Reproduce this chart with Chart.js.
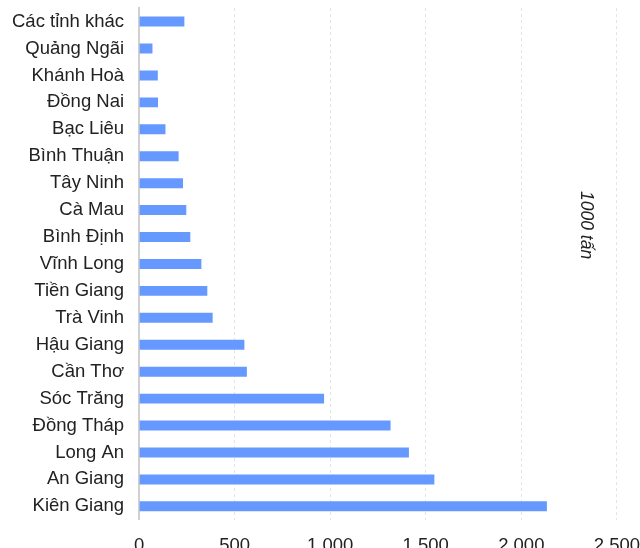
<!DOCTYPE html>
<html>
<head>
<meta charset="utf-8">
<script src="https://cdn.jsdelivr.net/npm/chart.js@4"></script>
<style>
  html, body { margin: 0; padding: 0; background: #fff; overflow: hidden; }
  #clip { width: 640px; height: 548px; overflow: hidden; position: relative; }
  #wrap { width: 658px; height: 590px; position: absolute; left: -3px; top: -18px; }
</style>
</head>
<body>
<div id="clip"><div id="wrap"><canvas id="chart"></canvas></div></div>
<script>
// provinces, top to bottom as drawn
const provinces = [
    'Các tỉnh khác', 'Quảng Ngãi', 'Khánh Hoà', 'Đồng Nai', 'Bạc Liêu',
    'Bình Thuận', 'Tây Ninh', 'Cà Mau', 'Bình Định', 'Vĩnh Long',
    'Tiền Giang', 'Trà Vinh', 'Hậu Giang', 'Cần Thơ', 'Sóc Trăng',
    'Đồng Tháp', 'Long An', 'An Giang', 'Kiên Giang'
];
// output, 1000 tấn
const output = [
    237, 70, 98, 99, 138,
    207, 230, 247, 268, 326,
    357, 385, 551, 564, 968,
    1316, 1412, 1545, 2134
];
const xTicks = [0, 500, 1000, 1500, 2000, 2500];
const unitLabel = '1000 tấn';

const fontFamily = "'Liberation Sans', Arial, sans-serif";

// rotated unit label on the right side of the plot
const unitPlugin = {
    id: 'unitLabel',
    afterDraw(chart) {
        const { ctx, chartArea } = chart;
        ctx.save();
        ctx.translate(chartArea.right - 31, chartArea.top + chartArea.height * 0.424);
        ctx.rotate(Math.PI / 2);
        ctx.font = 'italic 17.5px ' + fontFamily;
        ctx.fillStyle = '#222';
        ctx.textAlign = 'center';
        ctx.textBaseline = 'middle';
        ctx.fillText(unitLabel, 0, 0);
        ctx.restore();
    }
};

new Chart(document.getElementById('chart'), {
    type: 'bar',
    data: {
        labels: provinces,
        datasets: [{
            data: output,
            backgroundColor: '#6699ff',
            borderWidth: 0,
            barPercentage: 0.37,
            categoryPercentage: 1
        }]
    },
    options: {
        indexAxis: 'y',
        responsive: true,
        maintainAspectRatio: false,
        animation: false,
        layout: { padding: 0 },
        plugins: {
            legend: { display: false },
            tooltip: { enabled: false }
        },
        scales: {
            x: {
                min: 0,
                max: 2500,
                afterBuildTicks(scale) {
                    scale.ticks = xTicks.map(v => ({ value: v }));
                },
                grid: {
                    color: '#e4e4e4',
                    drawTicks: false
                },
                border: { display: false, dash: [3, 3] },
                ticks: {
                    padding: 15,
                    color: '#222',
                    font: { family: fontFamily, size: 18.5 },
                    callback: v => v.toLocaleString('de-DE')
                }
            },
            y: {
                grid: { display: false, drawTicks: false },
                border: { display: true, color: '#d0d0d0', width: 2 },
                ticks: {
                    autoSkip: false,
                    padding: 15,
                    color: '#222',
                    font: { family: fontFamily, size: 18.5 }
                }
            }
        }
    },
    plugins: [unitPlugin]
});
</script>
</body>
</html>
